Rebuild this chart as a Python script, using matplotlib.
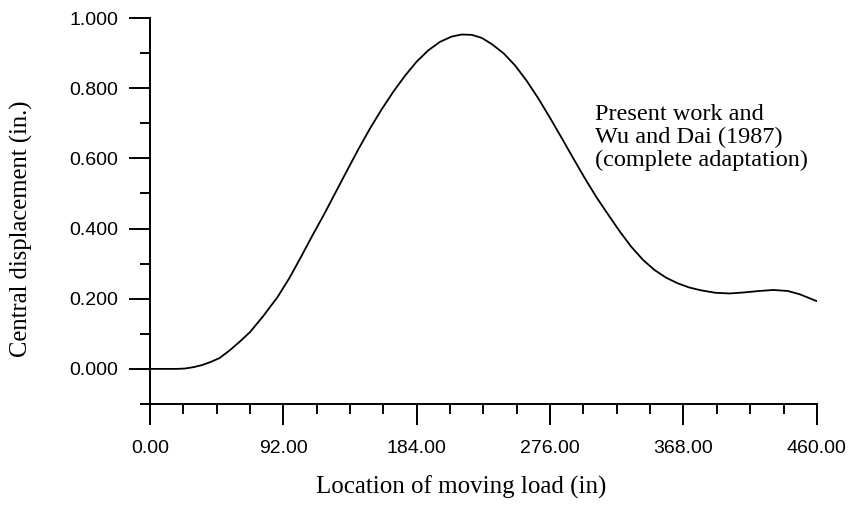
import numpy as np
import matplotlib
matplotlib.use("Agg")
import matplotlib.pyplot as plt
from matplotlib.ticker import MultipleLocator, FormatStrFormatter

# load position (in) and central displacement (in.)
load_pos = [0, 18, 24, 30, 36, 42, 48, 55, 62, 69, 78, 88, 96, 104, 112, 120,
            128, 136, 144, 152, 160, 168, 176, 184, 192, 200, 208, 215, 222,
            229, 236, 244, 252, 260, 268, 276, 284, 292, 300, 308, 316, 324,
            332, 340, 348, 356, 364, 372, 380, 390, 400, 410, 420, 430, 440,
            448, 454, 460]
displacement = [0.000, 0.000, 0.001, 0.005, 0.011, 0.020, 0.031, 0.053, 0.078,
                0.105, 0.150, 0.205, 0.258, 0.318, 0.380, 0.440, 0.503, 0.566,
                0.628, 0.687, 0.741, 0.791, 0.836, 0.876, 0.908, 0.932, 0.947,
                0.953, 0.952, 0.943, 0.925, 0.899, 0.864, 0.820, 0.770, 0.715,
                0.658, 0.600, 0.543, 0.489, 0.440, 0.392, 0.348, 0.311, 0.282,
                0.260, 0.244, 0.232, 0.224, 0.217, 0.215, 0.218, 0.222, 0.225,
                0.222, 0.213, 0.203, 0.193]

x_ticks = [0, 92, 184, 276, 368, 460]
y_ticks = [0.0, 0.2, 0.4, 0.6, 0.8, 1.0]

serif = "Liberation Serif"
sans = "Liberation Sans"

fig = plt.figure(figsize=(8.5, 5.09), dpi=100)
ax = fig.add_axes([0.1765, 0.2063, 0.7845, 0.7583])

ax.plot(load_pos, displacement, color="black", lw=1.3)

ax.set_xlim(0, 460)
ax.set_ylim(-0.1, 1.0)
ax.set_xticks(x_ticks)
ax.set_yticks(y_ticks)
ax.xaxis.set_minor_locator(MultipleLocator(23))
ax.yaxis.set_minor_locator(MultipleLocator(0.1))
ax.xaxis.set_major_formatter(FormatStrFormatter("%.2f"))
ax.yaxis.set_major_formatter(FormatStrFormatter("%.3f"))

for s in ["top", "right"]:
    ax.spines[s].set_visible(False)
for s in ["left", "bottom"]:
    ax.spines[s].set_linewidth(1.4)

ax.tick_params(which="major", direction="out", length=15, width=1.4,
               labelsize=14, pad=8)
ax.tick_params(which="minor", direction="out", length=7, width=1.4)
ax.tick_params(axis="x", which="major", pad=11)
for lab in ax.get_xticklabels() + ax.get_yticklabels():
    lab.set_fontfamily(sans)

ax.set_xlabel("Location of moving load (in)", fontfamily=serif, fontsize=18)
ax.set_ylabel("Central displacement (in.)", fontfamily=serif, fontsize=17.7)
ax.xaxis.set_label_coords(0.466, -0.185)
ax.yaxis.set_label_coords(-0.175, 0.453)

ax.text(0.667, 0.777, "Present work and\nWu and Dai (1987)\n(complete adaptation)",
        transform=ax.transAxes, fontfamily=serif, fontsize=17.5, va="top",
        ha="left", linespacing=1.1)

fig.savefig("out.png", dpi=100)
